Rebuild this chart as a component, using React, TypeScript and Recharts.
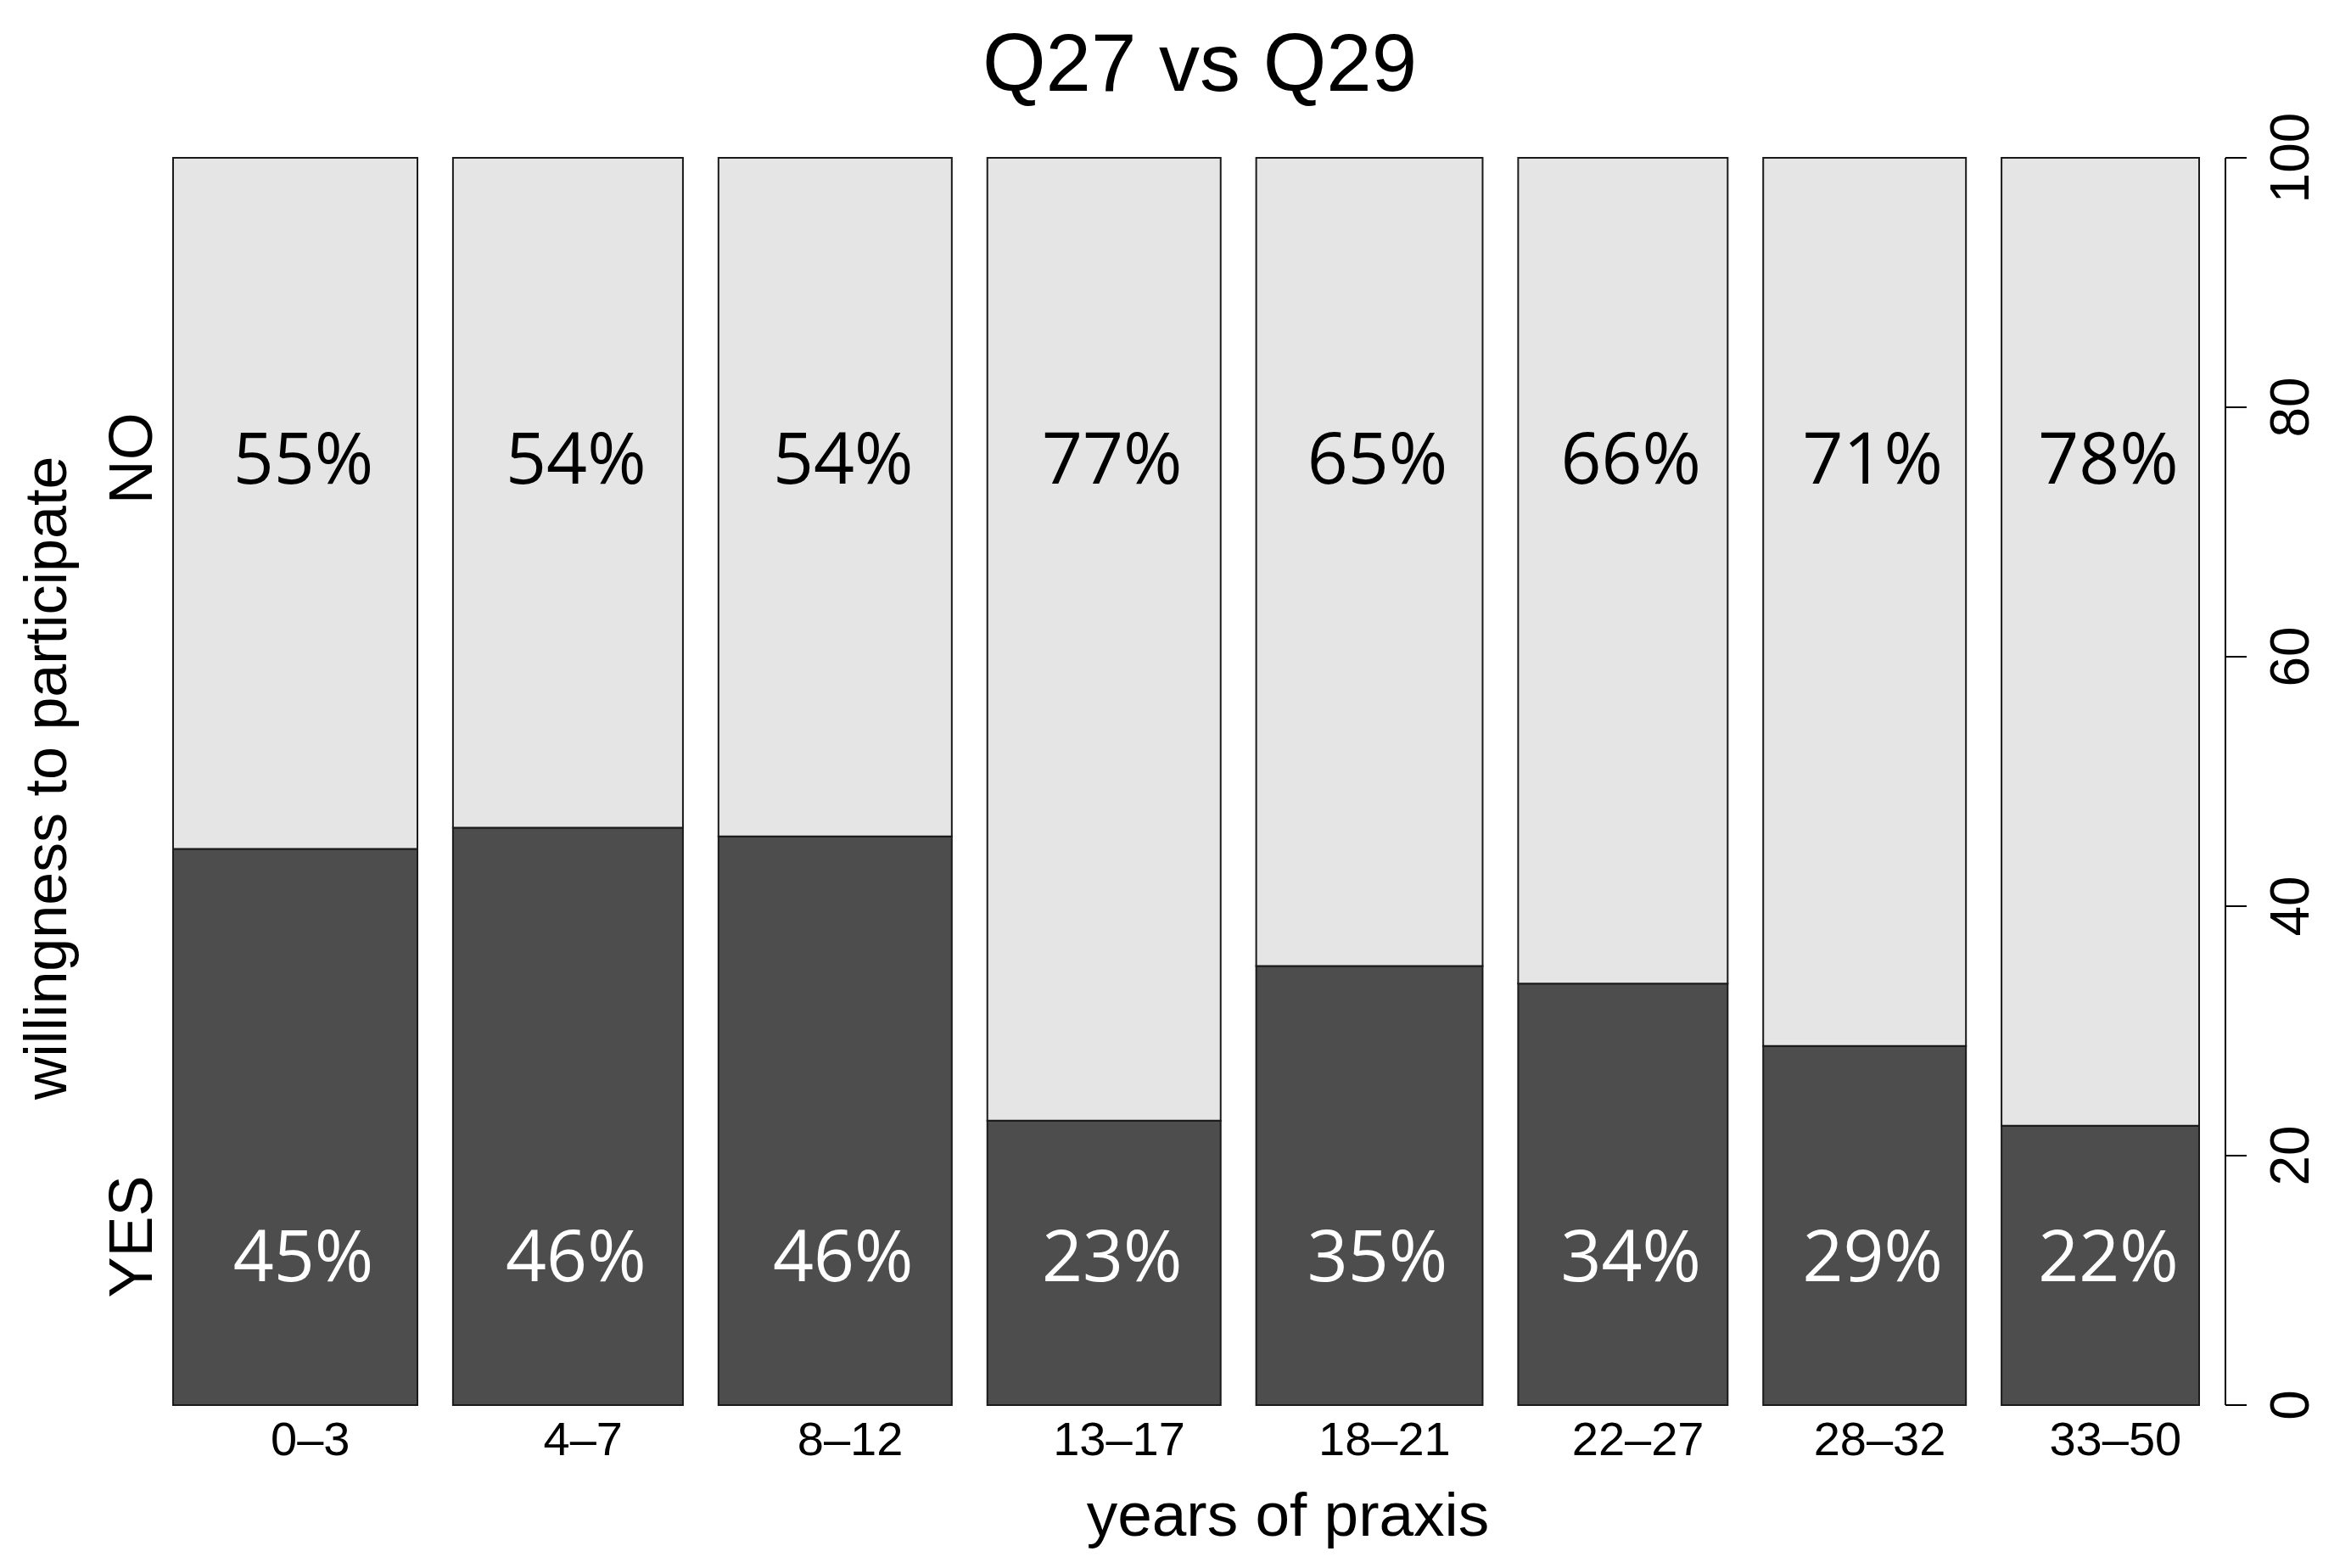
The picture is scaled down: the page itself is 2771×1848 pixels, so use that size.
import { ComposedChart, XAxis, YAxis, Scatter, ReferenceArea } from "recharts";

// years of praxis groups
const groups = ["0–3", "4–7", "8–12", "13–17", "18–21", "22–27", "28–32", "33–50"];
// share of all respondents in each group (%), gives the bar widths
const groupShare = [13.75, 12.94, 13.13, 13.13, 12.74, 11.79, 11.41, 11.12];
// share answering YES inside each group (%)
const yesShare = [44.6, 46.3, 45.6, 22.8, 35.2, 33.8, 28.8, 22.4];
const pctTicks = [0, 20, 40, 60, 80, 100];
const answerLabels = ["NO", "YES"];
const answerTickAt = [75.9, 13.5];

const GAP = 2; // spineplot offset between bars, in %
const AXIS_PAD = 1.48;
const NO_LABEL_Y = 73.9;
const YES_LABEL_Y = 9.9;
const LABEL_SHIFT = 0.45;
const TICK_SHIFT = 0.85;

const DARK = "#4d4d4d";
const LIGHT = "#e5e5e5";
const EDGE = "#1a1a1a";
const SANS = "'Liberation Sans', Arial, sans-serif";

let cursor = 0;
const cells = groups.map((group, i) => {
  const x1 = cursor;
  const x2 = cursor + groupShare[i];
  cursor = x2 + GAP;
  return { group, x1, x2, mid: (x1 + x2) / 2, yes: yesShare[i], no: 100 - yesShare[i] };
});
const X_MAX = cells[cells.length - 1].x2 + AXIS_PAD;

const labelPoints = cells.flatMap((c) => [
  { x: c.mid + LABEL_SHIFT, y: NO_LABEL_Y, text: `${Math.round(c.no)}%`, fill: "#000" },
  { x: c.mid + LABEL_SHIFT, y: YES_LABEL_Y, text: `${Math.round(c.yes)}%`, fill: "#fff" },
]);

// points that tie the answer axis to data, drawn as nothing
const answerPoints = answerTickAt.map((y) => ({ x: 0, y }));

const groupTicks = cells.map((c) => c.mid + TICK_SHIFT);

const PctLabel = (p: any) => (
  <text
    x={p.cx}
    y={p.cy}
    textAnchor="middle"
    fill={p.payload.fill}
    fontFamily="'Open Sans', 'Noto Sans', sans-serif"
    fontSize={84}
  >
    {p.payload.text}
  </text>
);

const Nothing = () => <g />;

const GroupTick = (p: any) => (
  <text x={p.x} y={p.y + 59} textAnchor="middle" fontFamily={SANS} fontSize={56} fill="#000">
    {groups[p.index]}
  </text>
);

const AnswerTick = (p: any) => {
  const px = p.x - 25;
  const idx = answerTickAt.indexOf(p.payload.value);
  return (
    <text
      x={px}
      y={p.y}
      transform={`rotate(-90 ${px} ${p.y})`}
      textAnchor="middle"
      fontFamily={SANS}
      fontSize={72}
      fill="#000"
    >
      {answerLabels[idx >= 0 ? idx : p.index]}
    </text>
  );
};

const PctTick = (p: any) => {
  const px = p.x + 73;
  return (
    <text
      x={px}
      y={p.y}
      transform={`rotate(-90 ${px} ${p.y})`}
      textAnchor="middle"
      fontFamily={SANS}
      fontSize={64}
      fill="#000"
    >
      {p.payload.value}
    </text>
  );
};

export default function App() {
  return (
    <div style={{ position: "absolute", left: 0, top: 0, width: 2771, height: 1848, background: "#fff" }}>
      <ComposedChart width={2771} height={1848} margin={{ top: 186, right: 28, bottom: 92, left: 54 }}>
        <XAxis
          type="number"
          dataKey="x"
          domain={[0, X_MAX]}
          allowDataOverflow
          ticks={groupTicks}
          interval={0}
          tick={<GroupTick />}
          tickLine={false}
          axisLine={false}
          tickSize={0}
          tickMargin={0}
          height={100}
        />
        <YAxis
          yAxisId="cat"
          type="number"
          dataKey="y"
          domain={[0, 100]}
          allowDataOverflow
          ticks={answerTickAt}
          interval={0}
          tick={<AnswerTick />}
          tickLine={false}
          axisLine={false}
          tickSize={0}
          tickMargin={0}
          width={150}
        />
        <YAxis
          yAxisId="pct"
          orientation="right"
          type="number"
          dataKey="y"
          domain={[0, 100]}
          allowDataOverflow
          ticks={pctTicks}
          interval={0}
          tick={<PctTick />}
          tickSize={25}
          tickMargin={0}
          tickLine={{ stroke: "#000", strokeWidth: 2 }}
          axisLine={{ stroke: "#000", strokeWidth: 2 }}
          width={120}
        />
        {cells.map((c) => (
          <ReferenceArea
            key={`yes-${c.group}`}
            yAxisId="pct"
            x1={c.x1}
            x2={c.x2}
            y1={0}
            y2={c.yes}
            fill={DARK}
            fillOpacity={1}
            stroke={EDGE}
            strokeWidth={2}
          />
        ))}
        {cells.map((c) => (
          <ReferenceArea
            key={`no-${c.group}`}
            yAxisId="pct"
            x1={c.x1}
            x2={c.x2}
            y1={c.yes}
            y2={100}
            fill={LIGHT}
            fillOpacity={1}
            stroke={EDGE}
            strokeWidth={2}
          />
        ))}
        <Scatter yAxisId="cat" data={answerPoints} dataKey="y" shape={Nothing} isAnimationActive={false} />
        <Scatter yAxisId="pct" data={labelPoints} dataKey="y" shape={PctLabel} isAnimationActive={false} />
      </ComposedChart>
      <svg
        width={2771}
        height={1848}
        style={{ position: "absolute", left: 0, top: 0, pointerEvents: "none" }}
      >
        <text x={1414} y={107} textAnchor="middle" fontFamily={SANS} fontSize={96} fill="#000">
          Q27 vs Q29
        </text>
        <text x={1518} y={1810} textAnchor="middle" fontFamily={SANS} fontSize={73} fill="#000">
          years of praxis
        </text>
        <text
          x={78}
          y={917}
          transform="rotate(-90 78 917)"
          textAnchor="middle"
          fontFamily={SANS}
          fontSize={70}
          fill="#000"
        >
          willingness to participate
        </text>
      </svg>
    </div>
  );
}
